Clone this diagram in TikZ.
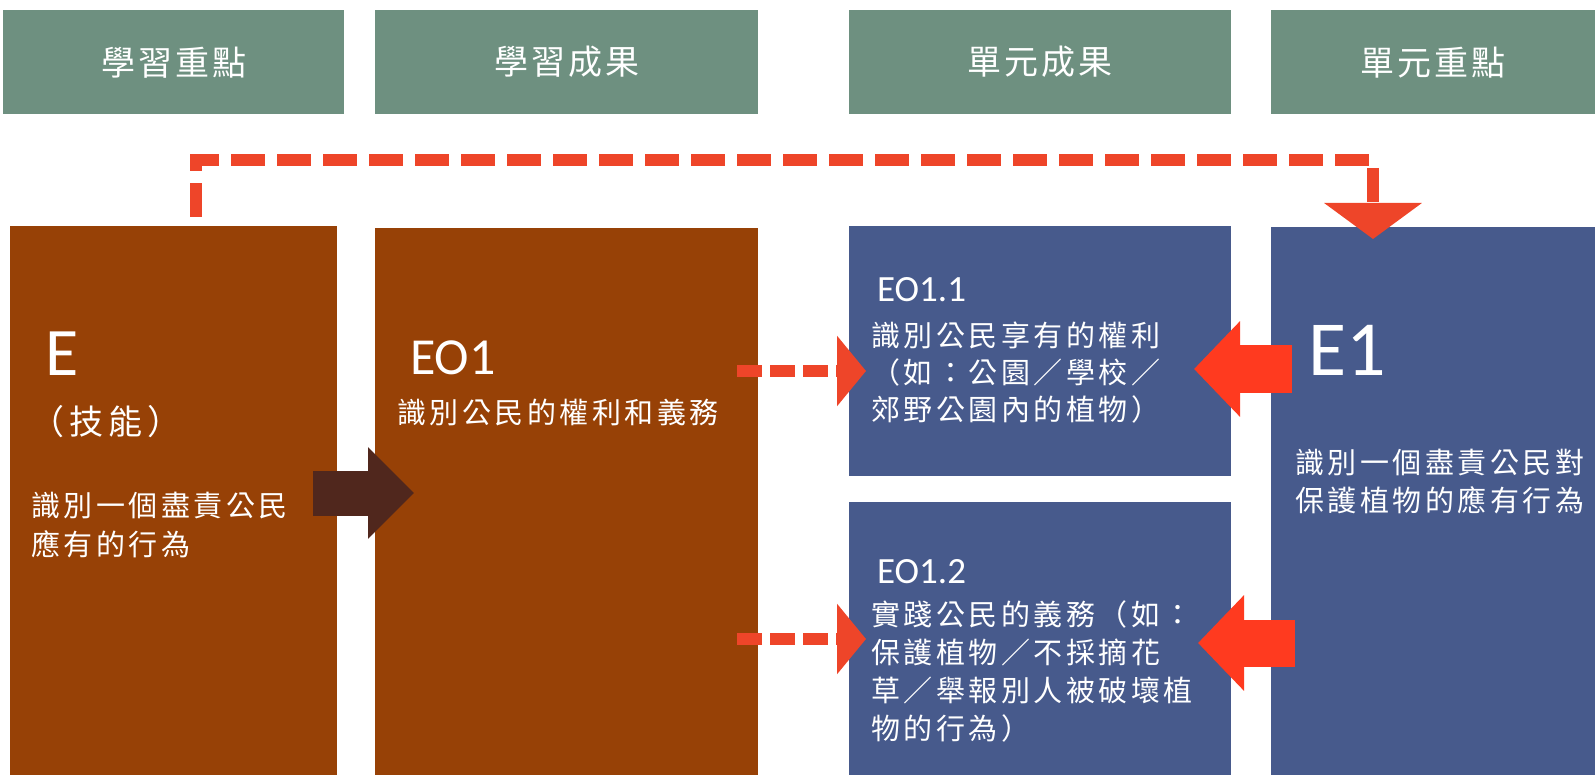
\documentclass[tikz,border=0pt]{standalone}
\usepackage{fontspec}
\usepackage{tikz}
\usetikzlibrary{positioning,arrows.meta}

\newfontfamily\cjk[LetterSpace=12]{Noto Sans CJK TC}
\newfontfamily\cjkhead[LetterSpace=9]{Noto Sans CJK TC}
\newfontfamily\cjkwide[LetterSpace=15]{Noto Sans CJK TC}
\newfontfamily\latin{Carlito}

\definecolor{headgreen}{RGB}{110,144,128}
\definecolor{boxbrown}{RGB}{151,65,6}
\definecolor{boxblue}{RGB}{71,90,140}
\definecolor{dashred}{RGB}{238,69,41}
\definecolor{blockred}{RGB}{255,58,31}
\definecolor{darkbrown}{RGB}{80,39,29}

\tikzset{
  header/.style={fill=headgreen, text=white, inner sep=0pt, anchor=north west,
    minimum height=104pt, font=\cjkhead\fontsize{34}{40}\selectfont},
  panel/.style={fill=#1, inner sep=0pt, anchor=north west},
  ltag/.style={text=white, inner sep=0pt, anchor=base west},
  ctext/.style={text=white, inner sep=0pt, anchor=west, align=left,
    font=\cjk\fontsize{29}{38}\selectfont},
  dasharrow/.style={draw=dashred, line width=12pt, dash pattern=on 25pt off 8pt,
    -{Triangle[width=69pt,length=29pt]}},
  blockarrow/.style={draw=#1, line width=47pt, -{Triangle[width=93pt,length=46pt]}}
}

\begin{document}
\begin{tikzpicture}[x=1pt, y=-1pt]
  \useasboundingbox (0,0) rectangle (1595,775);

  % column headers
  \node[header, minimum width=341pt] (hKey) at (3,10) {學習重點};
  \node[header, minimum width=383pt] (hOut) at (375,10) {學習成果};
  \node[header, minimum width=382pt] (hUnitOut) at (849,10) {單元成果};
  \node[header, minimum width=324pt] (hUnitKey) at (1271,10) {單元重點};

  % panels
  \node[panel=boxbrown, minimum width=327pt, minimum height=549pt] (E) at (10,226) {};
  \node[panel=boxbrown, minimum width=383pt, minimum height=547pt] (EO1) at (375,228) {};
  \node[panel=boxblue, minimum width=382pt, minimum height=250pt] (EO11) at (849,226) {};
  \node[panel=boxblue, minimum width=382pt, minimum height=273pt] (EO12) at (849,502) {};
  \node[panel=boxblue, minimum width=324pt, minimum height=548pt] (E1) at (1271,227) {};

  % texts
  \node[ltag, font=\latin\fontsize{68}{70}\selectfont] (eTag) at (45,376) {E};
  \node[ctext, font=\cjkwide\fontsize{34}{38}\selectfont] (eKind) at (30,422) {（技能）};
  \node[ctext, font=\cjk\fontsize{29}{39}\selectfont] (eText) at (31,525) {識別一個盡責公民\\應有的行為};

  \node[ltag, font=\latin\fontsize{52}{54}\selectfont] (eo1Tag) at (410,374) {EO1};
  \node[ctext] (eo1Text) at (397,412) {識別公民的權利和義務};

  \node[ltag, font=\latin\fontsize{37}{40}\selectfont] (eo11Tag) at (877,302) {EO1.1};
  \node[ctext, font=\cjk\fontsize{29}{37}\selectfont] (eo11Text) at (871,373)
    {識別公民享有的權利\\（如：公園／學校／\\郊野公園內的植物）};

  \node[ltag, font=\latin\fontsize{37}{40}\selectfont] (eo12Tag) at (877,583) {EO1.2};
  \node[ctext] (eo12Text) at (871,671)
    {實踐公民的義務（如：\\保護植物／不採摘花\\草／舉報別人被破壞植\\物的行為）};

  \node[ltag, font=\latin\fontsize{78}{80}\selectfont] (e1Tag) at (1308,375) {E1};
  \node[ctext] (e1Text) at (1295,482) {識別一個盡責公民對\\保護植物的應有行為};

  % connector ends
  \coordinate (eOut) at (313,493);
  \coordinate (eo1In) at (414,493);
  \coordinate (eo1OutA) at (737,371);
  \coordinate (eo11In) at (866,371);
  \coordinate (eo1OutB) at (737,639);
  \coordinate (eo12In) at (866,639);
  \coordinate (e1OutA) at (1292,369);
  \coordinate (eo11Back) at (1194,369);
  \coordinate (e1OutB) at (1295,643);
  \coordinate (eo12Back) at (1198,643);
  \coordinate (topStart) at (196,217);
  \coordinate (topEnd) at (1373,239);

  % connectors
  \draw[blockarrow=darkbrown, line width=45pt, -{Triangle[width=89pt,length=46pt]}] (eOut) -- (eo1In);
  \draw[dasharrow] (eo1OutA) -- (eo11In);
  \draw[dasharrow] (eo1OutB) -- (eo12In);
  \draw[blockarrow=blockred] (e1OutA) -- (eo11Back);
  \draw[blockarrow=blockred] (e1OutB) -- (eo12Back);
  \draw[draw=dashred, line width=12pt, dash pattern=on 34pt off 12pt,
    -{Triangle[width=96pt,length=36pt]}] (topStart) -- (topStart |- 0,160) -| (topEnd);
\end{tikzpicture}
\end{document}
